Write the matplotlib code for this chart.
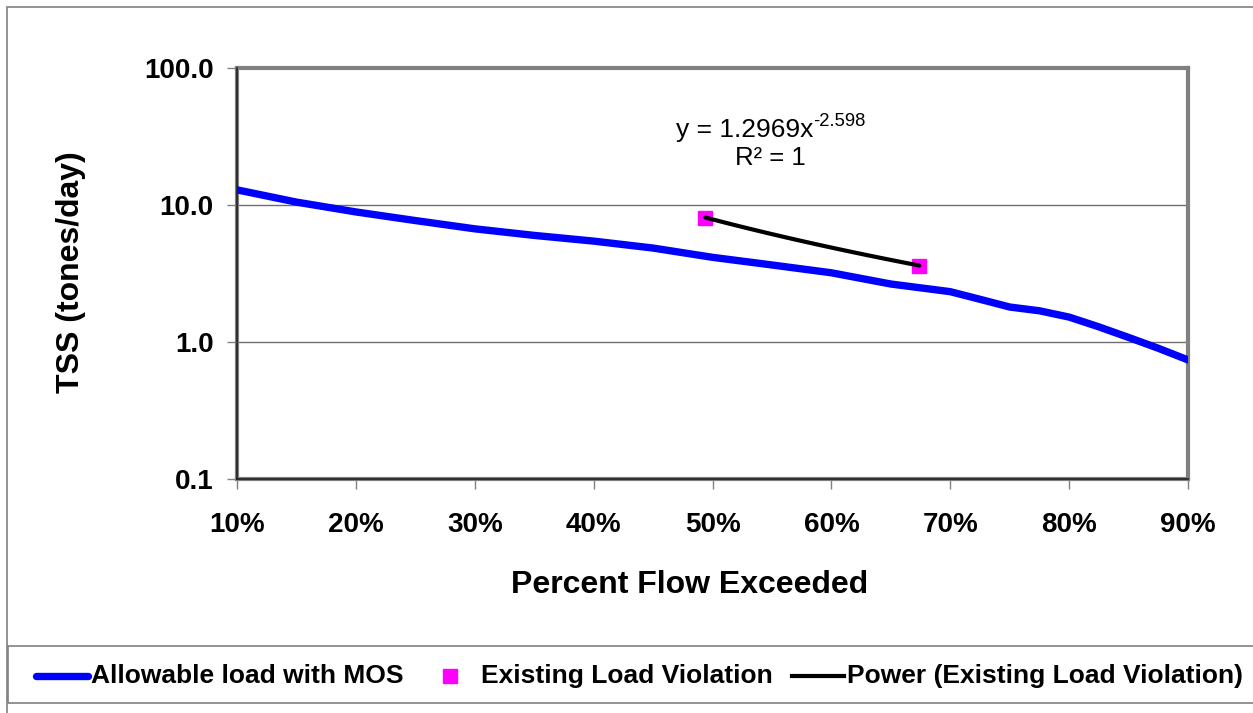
import matplotlib
matplotlib.use("Agg")
import matplotlib.pyplot as plt
import numpy as np
from matplotlib.patches import Rectangle
from matplotlib.lines import Line2D
from matplotlib.ticker import FixedLocator, FixedFormatter, NullLocator

plt.rcParams['font.family'] = ['Liberation Sans', 'DejaVu Sans']

# Data
flow_pct = [10, 15, 20, 25, 30, 35, 40, 45, 50, 55, 60, 65, 70, 72.5, 75, 77.5, 80, 82.5, 85, 87.5, 90]
allowable = [12.9, 10.5, 8.9, 7.7, 6.7, 6.0, 5.45, 4.85, 4.15, 3.65, 3.2, 2.65, 2.33, 2.05, 1.8, 1.69, 1.52, 1.29, 1.08, 0.9, 0.74]
viol_pct = [49.4, 67.4]
viol_load = [8.0, 3.59]
pow_a = 1.2969
pow_b = -2.598

x_ticks = [10, 20, 30, 40, 50, 60, 70, 80, 90]
x_ticklabels = ['10%', '20%', '30%', '40%', '50%', '60%', '70%', '80%', '90%']
y_ticks = [0.1, 1, 10, 100]
y_ticklabels = ['0.1', '1.0', '10.0', '100.0']
legend_labels = ['Allowable load with MOS', 'Existing Load Violation', 'Power (Existing Load Violation)']

W, H = 1253, 713
fig = plt.figure(figsize=(W / 100, H / 100), dpi=100)
ax = fig.add_axes([237 / W, 1 - 479 / H, (1188 - 237) / W, (479 - 68) / H])

ax.set_yscale('log')
ax.set_xlim(10, 90)
ax.set_ylim(0.1, 100)

ax.plot(flow_pct, allowable, color='#0000FF', lw=5.3, solid_capstyle='round', zorder=3)
tx = np.linspace(viol_pct[0], viol_pct[1], 50)
ax.plot(tx, pow_a * (tx / 100) ** pow_b, color='black', lw=3.0, solid_capstyle='round', zorder=4)
ax.plot(viol_pct, viol_load, linestyle='none', marker='s', markersize=10,
        color='#FF00FF', zorder=3)

ax.yaxis.set_major_locator(FixedLocator(y_ticks))
ax.yaxis.set_major_formatter(FixedFormatter(y_ticklabels))
ax.yaxis.set_minor_locator(NullLocator())
ax.xaxis.set_major_locator(FixedLocator(x_ticks))
ax.xaxis.set_major_formatter(FixedFormatter(x_ticklabels))

for yv in [1, 10]:
    ax.axhline(yv, color='#6e6e6e', lw=1.0, zorder=1)

ax.tick_params(axis='both', direction='out', length=7, width=1, color='#808080',
               labelsize=20)
ax.tick_params(axis='y', pad=10)
ax.tick_params(axis='x', pad=17)
for lab in ax.get_xticklabels() + ax.get_yticklabels():
    lab.set_fontweight('bold')

for s in ['top', 'right', 'left', 'bottom']:
    ax.spines[s].set_color('#808080')
    ax.spines[s].set_linewidth(3)
# dark inner line on left/bottom
ax.plot([0, 0], [0, 1], transform=ax.transAxes, color='#202020', lw=1.2, clip_on=False, zorder=5)
ax.plot([0, 1], [0, 0], transform=ax.transAxes, color='#202020', lw=1.2, clip_on=False, zorder=5)

ax.set_xlabel('Percent Flow Exceeded', fontsize=23, fontweight='bold')
ax.xaxis.set_label_coords((690 - 237) / 951, -(585 - 479) / 411)
ax.xaxis.label.set_va('center')
ax.set_ylabel('TSS (tones/day)', fontsize=23, fontweight='bold')
ax.yaxis.set_label_coords(-(237 - 71) / 951, (479 - 272) / 411)
ax.yaxis.label.set_va('center')

def ax_pt(px, py):
    return ((px - 237) / 951, (479 - py) / 411)

ax.text(*ax_pt(813, 130), 'y = 1.2969x', transform=ax.transAxes,
        ha='right', va='center', fontsize=19)
ax.text(*ax_pt(813, 122), '-2.598', transform=ax.transAxes,
        ha='left', va='center', fontsize=13.3)
ax.text(*ax_pt(770, 158), 'R² = 1', transform=ax.transAxes, ha='center', va='center', fontsize=18.5)

# outer chart border
fig.patches.append(Rectangle((7 / W, -0.05), 1.1, 1 - 7 / H + 0.05, transform=fig.transFigure,
                             fill=False, edgecolor='#808080', lw=1.2))
# legend box
fig.patches.append(Rectangle((8 / W, 1 - 703 / H), 1.1, (703 - 646) / H, transform=fig.transFigure,
                             fill=False, edgecolor='#808080', lw=1.2))

# legend entries placed manually
ly = 1 - 676 / H
def fx(px):
    return px / W
fig.lines.append(Line2D([fx(36), fx(88)], [ly, ly], transform=fig.transFigure,
                        color='#0000FF', lw=5.3, solid_capstyle='round'))
fig.lines.append(Line2D([fx(450)], [ly], transform=fig.transFigure, linestyle='none',
                        marker='s', markersize=10, color='#FF00FF'))
fig.lines.append(Line2D([fx(792), fx(844)], [ly, ly], transform=fig.transFigure,
                        color='black', lw=3.0))
for px, lab in zip([91, 481, 847], legend_labels):
    fig.text(fx(px), ly, lab, ha='left', va='center', fontsize=19, fontweight='bold')

fig.savefig('out.png', dpi=100)
